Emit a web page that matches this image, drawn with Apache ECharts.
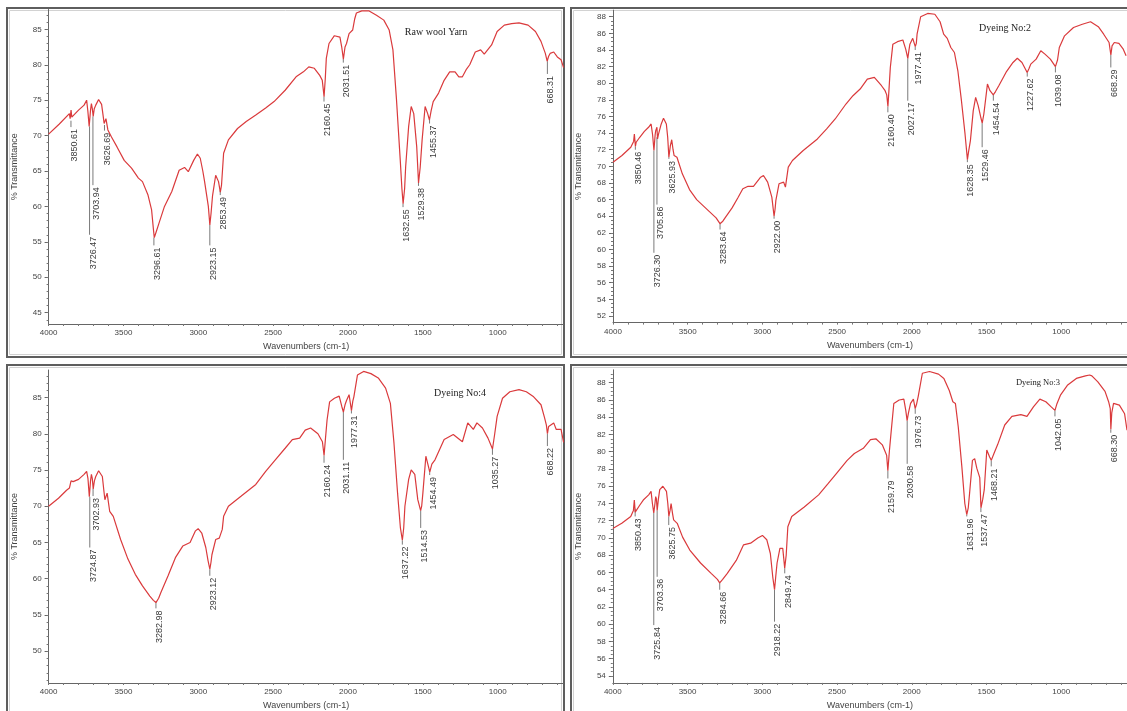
<!DOCTYPE html>
<html>
<head>
<meta charset="utf-8">
<script src="https://cdn.jsdelivr.net/npm/echarts@6/dist/echarts.min.js"></script>
<style>
html, body {margin: 0; padding: 0; background: #fff;}
#chart {width: 1127px; height: 711px;}
</style>
</head>
<body>
<div id="chart"></div>
<script>
// FTIR spectra, [wavenumber, %T]
var rawWool = [[4000,70.2],[3930,71.6],[3861,73.1],[3856,72.4],[3850,73.6],[3845,72.6],[3800,73.6],[3763,74.3],[3746,75.0],[3738,73.5],[3729,71.3],[3720,73.6],[3714,74.5],[3708,73.8],[3702,72.7],[3695,73.8],[3685,74.3],[3666,75.1],[3646,74.4],[3637,73.0],[3629,71.7],[3617,72.4],[3604,70.8],[3580,69.8],[3543,68.4],[3495,66.5],[3446,65.4],[3400,64.0],[3373,63.5],[3336,61.6],[3312,59.5],[3300,56.8],[3294,55.6],[3280,56.5],[3263,57.6],[3226,60.0],[3177,62.1],[3128,65.1],[3092,65.5],[3067,64.9],[3031,66.5],[3006,67.4],[2987,66.8],[2970,65.0],[2958,63.5],[2933,60.0],[2923,57.4],[2915,59.0],[2905,61.5],[2884,64.4],[2865,63.5],[2853,62.0],[2845,63.0],[2831,67.5],[2799,69.4],[2738,71.0],[2680,72.0],[2616,72.9],[2550,73.9],[2494,74.8],[2420,76.4],[2347,78.3],[2298,79.0],[2262,79.7],[2225,79.5],[2189,78.5],[2172,77.8],[2160,75.5],[2152,78.0],[2145,80.9],[2127,83.0],[2091,84.1],[2054,83.9],[2042,82.5],[2031,80.8],[2020,82.5],[2010,83.0],[1993,84.4],[1969,84.9],[1955,86.5],[1944,87.3],[1908,87.6],[1859,87.6],[1810,87.0],[1761,86.3],[1725,84.9],[1700,82.1],[1676,75.0],[1651,66.5],[1640,62.5],[1632,60.4],[1622,62.5],[1615,65.6],[1595,71.3],[1578,74.1],[1561,73.1],[1541,68.4],[1529,63.3],[1518,65.5],[1505,69.4],[1485,74.1],[1468,73.1],[1456,72.2],[1445,73.5],[1431,74.8],[1395,76.0],[1358,77.8],[1321,79.0],[1285,79.0],[1260,78.3],[1236,78.3],[1211,79.3],[1187,80.0],[1150,81.8],[1114,82.1],[1090,81.5],[1077,81.4],[1041,82.8],[1004,84.7],[956,85.6],[907,85.8],[858,85.9],[797,85.6],[748,84.7],[711,83.3],[682,81.6],[670,80.5],[660,81.2],[650,81.6],[626,81.8],[602,81.1],[577,80.7],[560,79.6]];

var dyeing2 = [[4000,70.5],[3940,71.3],[3881,72.3],[3862,73.0],[3857,73.9],[3850,72.4],[3845,72.9],[3821,73.5],[3790,74.2],[3762,74.7],[3745,75.1],[3735,73.8],[3726,71.9],[3718,73.8],[3714,74.3],[3706,74.7],[3702,73.3],[3695,73.9],[3679,75.0],[3662,75.8],[3643,75.1],[3634,73.5],[3626,71.1],[3616,72.5],[3607,73.2],[3598,72.0],[3591,71.3],[3572,71.1],[3536,69.1],[3488,67.2],[3440,66.0],[3369,64.8],[3310,63.8],[3284,63.1],[3265,63.4],[3250,63.8],[3203,65.0],[3165,66.2],[3131,67.3],[3096,67.6],[3060,67.6],[3012,68.7],[2993,68.9],[2965,68.1],[2937,66.3],[2922,64.0],[2915,64.9],[2910,65.9],[2889,67.9],[2858,68.1],[2846,67.5],[2827,69.9],[2799,70.7],[2727,71.9],[2632,73.3],[2570,74.5],[2513,75.7],[2441,77.5],[2394,78.5],[2346,79.3],[2298,80.5],[2251,80.7],[2203,79.7],[2179,79.1],[2168,78.6],[2160,77.2],[2152,79.5],[2144,81.9],[2127,84.7],[2096,85.0],[2060,85.2],[2041,84.1],[2027,83.0],[2020,83.9],[2013,84.7],[1994,85.4],[1977,84.4],[1970,84.8],[1965,85.9],[1941,88.0],[1894,88.4],[1846,88.3],[1811,87.4],[1787,85.9],[1763,85.4],[1739,84.3],[1715,83.7],[1692,81.5],[1668,77.9],[1644,73.9],[1628,70.8],[1620,71.8],[1608,73.1],[1589,76.7],[1573,78.3],[1556,77.3],[1540,76.0],[1529,75.2],[1518,76.3],[1494,79.9],[1477,79.1],[1455,78.6],[1440,79.0],[1418,79.7],[1370,81.3],[1323,82.5],[1294,83.0],[1263,82.5],[1228,81.3],[1215,81.8],[1204,82.3],[1168,82.9],[1137,83.9],[1109,83.5],[1073,82.9],[1039,82.0],[1025,82.8],[1013,84.3],[978,85.7],[918,86.7],[859,87.1],[804,87.4],[752,86.8],[716,85.9],[680,84.9],[668,83.4],[660,84.5],[645,84.9],[614,84.8],[585,84.1],[566,83.3]];

var dyeing4 = [[4000,70.0],[3934,71.1],[3880,72.2],[3861,72.5],[3850,73.5],[3836,73.4],[3800,73.7],[3763,74.4],[3746,74.8],[3737,73.8],[3728,71.3],[3720,73.5],[3714,74.4],[3708,73.8],[3702,72.4],[3694,73.5],[3685,74.1],[3666,74.9],[3641,74.1],[3630,72.0],[3624,70.9],[3609,71.8],[3592,69.3],[3568,68.6],[3519,65.4],[3470,62.7],[3421,60.6],[3373,59.0],[3324,57.6],[3300,57.0],[3283,56.7],[3265,57.3],[3250,58.1],[3202,60.4],[3153,62.9],[3104,64.5],[3055,65.0],[3019,66.6],[3001,66.9],[2977,66.3],[2950,64.3],[2935,62.5],[2923,61.3],[2915,62.3],[2909,63.3],[2884,65.4],[2860,65.6],[2848,65.4],[2840,66.8],[2831,68.6],[2799,70.0],[2713,71.4],[2616,73.0],[2550,74.8],[2494,76.2],[2420,78.0],[2372,79.2],[2323,79.4],[2286,80.5],[2250,80.8],[2201,80.0],[2171,78.9],[2160,77.0],[2150,79.5],[2140,81.9],[2123,84.4],[2091,84.9],[2059,85.2],[2042,83.8],[2031,83.0],[2020,84.0],[2010,84.6],[1993,85.4],[1977,83.2],[1968,84.5],[1961,85.1],[1937,88.1],[1896,88.6],[1847,88.3],[1798,87.7],[1749,86.3],[1717,84.2],[1693,78.7],[1669,71.8],[1650,67.0],[1637,65.3],[1628,67.0],[1620,70.0],[1595,73.7],[1578,75.0],[1554,74.4],[1534,70.9],[1515,69.4],[1508,70.0],[1500,71.8],[1480,76.9],[1463,75.5],[1454,74.7],[1440,75.8],[1419,76.4],[1358,79.2],[1297,79.9],[1236,78.9],[1200,81.5],[1163,80.6],[1139,81.5],[1102,80.8],[1065,79.4],[1035,77.9],[1020,80.0],[1004,82.4],[968,84.9],[919,85.8],[858,86.1],[809,85.8],[760,85.1],[711,84.0],[687,82.2],[675,81.2],[668,80.0],[660,81.0],[650,81.2],[626,81.5],[609,80.6],[577,80.6],[560,78.8]];

var dyeing3 = [[4000,71.1],[3940,71.7],[3880,72.5],[3862,73.2],[3856,74.4],[3850,73.0],[3844,73.2],[3820,73.8],[3796,74.4],[3760,75.0],[3744,75.4],[3735,74.0],[3726,72.9],[3718,74.0],[3713,74.8],[3708,74.5],[3703,73.2],[3695,74.5],[3686,75.6],[3665,76.0],[3641,75.4],[3632,74.0],[3625,72.5],[3617,73.2],[3610,74.0],[3600,72.8],[3593,72.1],[3569,71.7],[3533,70.1],[3485,68.6],[3413,67.1],[3342,65.9],[3300,65.2],[3285,64.8],[3265,65.2],[3234,65.9],[3174,67.4],[3126,69.2],[3078,69.4],[3030,70.0],[2999,70.3],[2970,69.8],[2946,68.2],[2930,65.5],[2918,64.0],[2910,65.5],[2901,67.1],[2882,68.8],[2863,68.8],[2850,66.5],[2840,68.0],[2829,71.3],[2803,72.5],[2719,73.6],[2623,75.0],[2560,76.3],[2503,77.5],[2432,79.0],[2384,79.8],[2324,80.4],[2276,81.4],[2240,81.5],[2197,80.8],[2168,79.6],[2160,77.8],[2150,80.0],[2139,82.1],[2120,85.6],[2084,86.0],[2053,86.1],[2040,84.8],[2031,83.6],[2022,84.5],[2008,85.6],[1989,86.1],[1977,85.0],[1968,85.5],[1957,86.4],[1929,89.1],[1881,89.3],[1821,89.0],[1785,88.5],[1749,87.1],[1725,85.8],[1708,85.6],[1689,82.9],[1665,78.3],[1645,74.0],[1632,72.7],[1622,73.5],[1613,75.2],[1594,79.0],[1579,79.2],[1565,78.1],[1553,78.3],[1545,77.0],[1537,73.5],[1525,74.5],[1515,75.6],[1498,80.2],[1479,79.4],[1468,79.0],[1450,79.8],[1426,80.8],[1378,83.1],[1330,84.1],[1270,84.3],[1229,84.1],[1186,85.2],[1143,86.1],[1103,85.8],[1067,85.2],[1042,84.8],[1030,85.5],[1004,86.6],[959,87.7],[899,88.5],[838,88.8],[810,88.9],[795,88.8],[755,88.1],[707,87.0],[683,85.8],[672,85.0],[668,82.6],[662,84.5],[650,85.6],[611,85.4],[576,84.4],[560,82.5]];

// peak labels: [wavenumber, line top %T, line bottom %T]
var peaks1 = [[3850.61,72.1,71.2],[3726.47,71.3,56.0],[3703.94,72.7,63.0],[3626.69,71.5,70.7],[3296.61,55.6,54.5],[2923.15,57.4,54.5],[2853.49,62.3,61.6],[2160.45,75.5,74.8],[2031.51,80.8,80.3],[1632.55,60.4,59.9],[1529.38,63.3,62.9],[1455.37,72.2,71.7],[668.31,80.5,78.7]];
var peaks2 = [[3850.46,72.4,72.0],[3726.30,71.9,59.6],[3705.86,73.5,65.4],[3625.93,71.1,70.9],[3283.64,63.1,62.4],[2922.00,64.0,63.7],[2160.40,77.2,76.5],[2027.17,83.0,77.9],[1977.41,84.4,84.0],[1628.35,70.8,70.5],[1529.46,75.2,72.3],[1454.54,78.6,77.9],[1227.62,81.3,80.8],[1039.08,82.0,81.3],[668.29,83.4,81.9]];
var peaks4 = [[3724.87,71.3,64.3],[3702.93,72.4,71.4],[3282.98,56.7,55.9],[2923.12,61.3,60.4],[2160.24,77.0,76.0],[2031.11,83.0,76.4],[1977.31,83.2,82.8],[1637.22,65.3,64.7],[1514.53,69.4,67.0],[1454.49,74.7,74.3],[1035.27,77.9,77.1],[668.22,80.0,78.3]];
var peaks3 = [[3850.43,73.4,72.5],[3725.84,72.9,59.9],[3703.36,73.2,65.5],[3625.75,72.5,71.5],[3284.66,64.8,64.0],[2918.22,64.0,60.3],[2849.74,66.5,65.9],[2159.79,77.8,76.9],[2030.58,83.6,78.6],[1976.73,85.0,84.4],[1631.96,72.7,72.5],[1537.47,73.5,73.0],[1468.21,79.0,78.3],[1042.05,84.8,84.1],[668.30,82.6,82.2]];

// tick labels
var xLabels = [1000, 1500, 2000, 2500, 3000, 3500, 4000];
var yLabels1 = [45, 50, 55, 60, 65, 70, 75, 80, 85];
var yLabels2 = [52, 54, 56, 58, 60, 62, 64, 66, 68, 70, 72, 74, 76, 78, 80, 82, 84, 86, 88];
var yLabels4 = [50, 55, 60, 65, 70, 75, 80, 85];
var yLabels3 = [54, 56, 58, 60, 62, 64, 66, 68, 70, 72, 74, 76, 78, 80, 82, 84, 86, 88];

function steps(from, to, step) {
    var out = [];
    for (var v = from; v <= to + 1e-9; v += step) out.push(Math.round(v * 10) / 10);
    return out;
}
var xMinor = steps(600, 4000, 100);

var redLine = '#da3a3c';
var tickFont = '"Liberation Sans Narrow", "Liberation Sans", sans-serif';
var plain = function (v) { return String(v); };
var option = {
    backgroundColor: '#ffffff',
    animation: false,
    grid: [], xAxis: [], yAxis: [], series: [],
    graphic: []
};

function renderPeak(params, api) {
    var p1 = api.coord([api.value(0), api.value(1)]);
    var p2 = api.coord([api.value(0), api.value(2)]);
    return {
        type: 'group',
        children: [
            {type: 'line', shape: {x1: p1[0], y1: p1[1], x2: p2[0], y2: p2[1]},
                style: {stroke: '#7a7a7a', lineWidth: 1}},
            {type: 'text', x: p2[0] - 1, y: p2[1] + 2, rotation: Math.PI / 2,
                style: {text: api.value(0).toFixed(2), fontSize: 9, fontFamily: 'Liberation Sans',
                    fill: '#3a3a3a', align: 'right', verticalAlign: 'top',
                    textAlign: 'right', textVerticalAlign: 'top'}}
        ]
    };
}

function addPanel(i, box, yMin, yMax, yLabels, yMinorStep, spectrum, peaks) {
    option.grid.push({left: box[0], top: box[1], width: box[2], height: box[3]});
    option.xAxis.push({
        gridIndex: i, type: 'value', inverse: true, min: 560, max: 4000, position: 'bottom',
        name: 'Wavenumbers (cm-1)', nameLocation: 'middle', nameGap: 18,
        nameTextStyle: {fontSize: 9, color: '#444', fontFamily: tickFont},
        axisLine: {lineStyle: {color: '#666', width: 1}},
        axisTick: {customValues: xMinor, length: 2, lineStyle: {color: '#777'}},
        axisLabel: {customValues: xLabels, formatter: plain, fontSize: 8, color: '#444', margin: 5, fontFamily: tickFont},
        splitLine: {show: false}
    });
    option.yAxis.push({
        gridIndex: i, type: 'value', min: yMin, max: yMax, position: 'left',
        name: '% Transmittance', nameLocation: 'middle', nameGap: 30,
        nameTextStyle: {fontSize: 9, color: '#444', fontFamily: tickFont},
        axisLine: {show: true, lineStyle: {color: '#666', width: 1}},
        axisTick: {customValues: yLabels, length: 4, lineStyle: {color: '#666'}},
        axisLabel: {customValues: yLabels, formatter: plain, fontSize: 8, color: '#444', margin: 7, fontFamily: tickFont},
        splitLine: {show: false}
    });
    option.yAxis.push({
        gridIndex: i, type: 'value', min: yMin, max: yMax, position: 'left',
        axisLine: {show: false},
        axisTick: {customValues: steps(Math.ceil(yMin), Math.floor(yMax), yMinorStep), length: 2, lineStyle: {color: '#777'}},
        axisLabel: {show: false},
        splitLine: {show: false}
    });
    option.series.push({
        type: 'line', xAxisIndex: i, yAxisIndex: 2 * i, data: spectrum,
        showSymbol: false, symbol: 'none', clip: true,
        lineStyle: {color: redLine, width: 1.2}
    });
    option.series.push({
        type: 'custom', xAxisIndex: i, yAxisIndex: 2 * i, data: peaks,
        renderItem: renderPeak, silent: true, clip: false, z: 3
    });
}

addPanel(0, [48.6, 9.5, 515, 314.5], 43.4, 87.8, yLabels1, 1, rawWool, peaks1);
addPanel(1, [613, 10.1, 517.4, 312.5], 51.2, 88.8, yLabels2, 0.5, dyeing2, peaks2);
addPanel(2, [48.6, 370, 515, 314], 45.6, 88.8, yLabels4, 1, dyeing4, peaks4);
addPanel(3, [612.8, 369.8, 517.4, 313.1], 53.2, 89.5, yLabels3, 0.5, dyeing3, peaks3);

// panel frames
[[7, 8, 557, 349], [571, 8, 570, 349], [7, 365, 557, 360], [571, 365, 570, 360]].forEach(function (r) {
    option.graphic.push({type: 'rect', z: -10, silent: true,
        shape: {x: r[0], y: r[1], width: r[2], height: r[3]},
        style: {fill: '#fff', stroke: '#5e5e5e', lineWidth: 2}});
    option.graphic.push({type: 'rect', z: -9, silent: true,
        shape: {x: r[0] + 2.5, y: r[1] + 2.5, width: r[2] - 5, height: r[3] - 5},
        style: {fill: 'none', stroke: '#d2d2d2', lineWidth: 1}});
});

// panel titles
[['Raw wool Yarn', 436, 32, 10], ['Dyeing No:2', 1005, 28, 10], ['Dyeing No:4', 460, 393, 10], ['Dyeing No:3', 1038, 383, 8.5]].forEach(function (t) {
    option.graphic.push({type: 'text', x: t[1], y: t[2], silent: true,
        style: {text: t[0], fontSize: t[3], fontFamily: '"Liberation Serif", serif', fill: '#222',
            align: 'center', verticalAlign: 'middle', textAlign: 'center', textVerticalAlign: 'middle'}});
});

var myChart = echarts.init(document.getElementById('chart'));
myChart.setOption(option);
</script>
</body>
</html>
